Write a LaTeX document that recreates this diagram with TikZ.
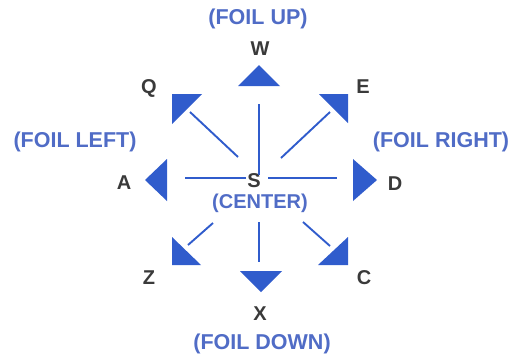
\documentclass[tikz,border=0pt]{standalone}
\usepackage{fontspec}
\setmainfont{Liberation Sans}
\definecolor{foilblue}{RGB}{48,92,204}
\definecolor{labelblue}{RGB}{80,108,198}
\definecolor{keygray}{RGB}{58,58,58}
\tikzset{
  keylabel/.style={font=\bfseries\fontsize{20}{20}\selectfont,text=keygray,inner sep=0pt},
  foillabel/.style={font=\bfseries\fontsize{21.5}{21.5}\selectfont,text=labelblue,inner sep=0pt},
  spoke/.style={draw=foilblue,line width=1.9pt},
  pointer/.style={fill=foilblue}
}
\begin{document}
\begin{tikzpicture}[x=1pt,y=-1pt]
  \useasboundingbox (0,0) rectangle (511,357); % page size
  % key letters
  \node[keylabel] (S) at (254,181) {S}; % center key
  \node[keylabel] (W) at (260,49) {W};
  \node[keylabel] (Q) at (149,88) {Q};
  \node[keylabel] (E) at (363,87) {E};
  \node[keylabel] (A) at (124,183) {A};
  \node[keylabel] (D) at (395,184) {D};
  \node[keylabel] (Z) at (149,278) {Z};
  \node[keylabel] (C) at (364,278) {C};
  \node[keylabel] (X) at (260,314) {X};
  % foil labels
  \node[foillabel] (up) at (258,19) {(FOIL UP)};
  \node[foillabel] (left) at (75,142) {(FOIL LEFT)};
  \node[foillabel] (right) at (441,142) {(FOIL RIGHT)};
  \node[foillabel,font=\bfseries\fontsize{20}{20}\selectfont] (center) at (260,203) {(CENTER)};
  \node[foillabel] (down) at (262,344) {(FOIL DOWN)};
  % pointers
  \fill[pointer] (238,86) -- (280,86) -- (259,65) -- cycle; % W
  \fill[pointer] (172,94) -- (202,94) -- (172,124) -- cycle; % Q
  \fill[pointer] (319,94) -- (348,94) -- (348,123) -- cycle; % E
  \fill[pointer] (145,180) -- (167,159) -- (167,201) -- cycle; % A
  \fill[pointer] (353,159) -- (353,201) -- (377,180) -- cycle; % D
  \fill[pointer] (172,237) -- (172,265) -- (201,265) -- cycle; % Z
  \fill[pointer] (240,271) -- (282,271) -- (261,292) -- cycle; % X
  \fill[pointer] (318,265) -- (348,265) -- (348,237) -- cycle; % C
  % spoke ends
  \coordinate (sW) at (259,175); \coordinate (eW) at (259,104);
  \coordinate (sQ) at (238,157); \coordinate (eQ) at (190,112);
  \coordinate (sE) at (281,158); \coordinate (eE) at (330,112);
  \coordinate (sA) at (246,178); \coordinate (eA) at (185,178);
  \coordinate (sD) at (268,178); \coordinate (eD) at (337,178);
  \coordinate (sZ) at (213,223); \coordinate (eZ) at (188,245);
  \coordinate (sX) at (259,222); \coordinate (eX) at (259,262);
  \coordinate (sC) at (303,222); \coordinate (eC) at (330,246);
  % spokes
  \foreach \k in {W,Q,E,A,D,Z,X,C}
    \draw[spoke] (s\k) -- (e\k);
\end{tikzpicture}
\end{document}
